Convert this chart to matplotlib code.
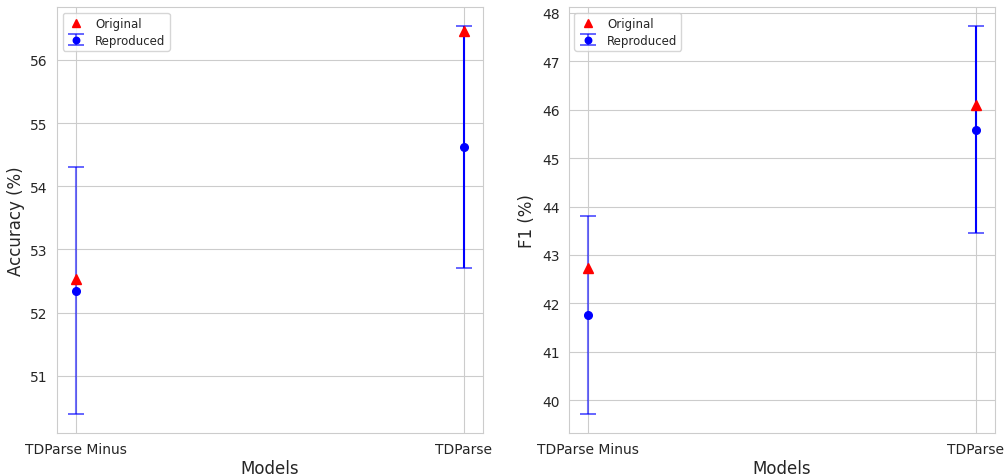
import matplotlib

matplotlib.use("Agg")
import matplotlib.pyplot as plt
import seaborn as sns

models = ["TDParse Minus", "TDParse"]

acc_original = [52.53, 56.46]
acc_reproduced = [52.35, 54.62]
acc_std = [1.95, 1.91]

f1_original = [42.72, 46.09]
f1_reproduced = [41.76, 45.59]
f1_std = [2.04, 2.13]

sns.set_style("whitegrid")
plt.rcParams["font.family"] = ["DejaVu Sans"]

fig, axes = plt.subplots(1, 2, figsize=(10.08, 4.77), dpi=100)
fig.subplots_adjust(left=0.0565, right=0.987, top=0.983, bottom=0.09, wspace=0.2)


def draw(ax, original, reproduced, std, ylabel):
    x = list(range(len(models)))
    ax.plot(x, original, "^", color="red", markersize=6.5, label="Original",
            zorder=4, linestyle="none")
    for i, (m, s) in enumerate(zip(reproduced, std)):
        # the full model's interval is drawn solid, the ablation faded
        alpha = 0.55 if i == 0 else 1.0
        eb = ax.errorbar([i], [m], yerr=[s], fmt="o", color="blue",
                         ecolor="blue", elinewidth=1.5, capsize=6, capthick=1.2,
                         markersize=5.5, zorder=3,
                         label="Reproduced" if i == 0 else None)
        eb[2][0].set_alpha(alpha)
        for cap in eb[1]:
            cap.set_alpha(0.7)
    ax.set_xticks(x)
    ax.set_xticklabels(models)
    ax.set_xlabel("Models", fontsize=12, color=".15", labelpad=2)
    ax.set_ylabel(ylabel, fontsize=12, color=".15", labelpad=4)
    ax.tick_params(labelsize=10, colors=".15", pad=3)
    leg = ax.legend(loc="upper left", fontsize=8.5, frameon=True,
                    markerscale=0.85, handlelength=1.6, borderpad=0.35,
                    labelspacing=0.3, handletextpad=0.8)
    leg.get_frame().set_edgecolor(".8")


draw(axes[0], acc_original, acc_reproduced, acc_std, "Accuracy (%)")
draw(axes[1], f1_original, f1_reproduced, f1_std, "F1 (%)")

fig.savefig("out.png", dpi=100)
